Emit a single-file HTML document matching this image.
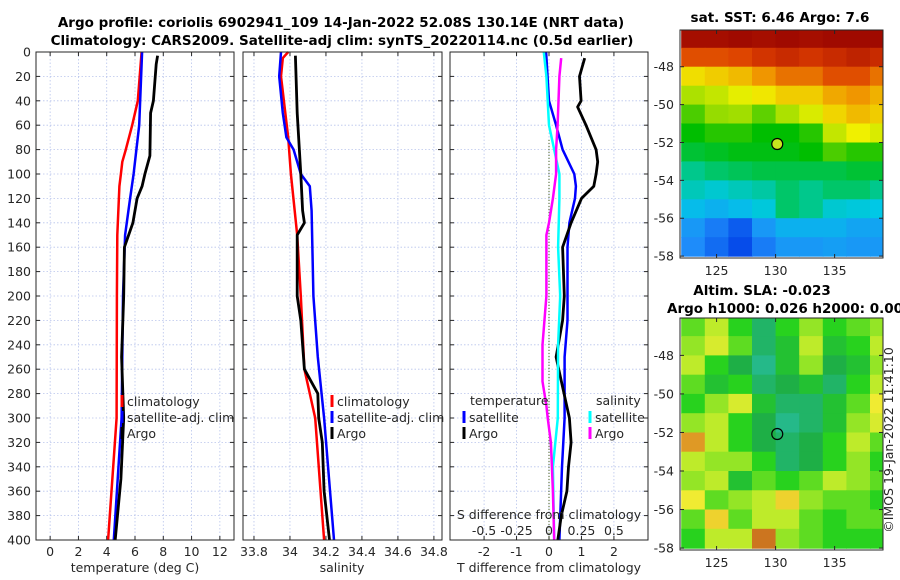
<!DOCTYPE html>
<html><head><meta charset="utf-8"><style>
body{margin:0;background:#fff;}
svg{display:block;font-family:"DejaVu Sans","Liberation Sans",sans-serif;}
.t{font-size:12.5px;fill:#262626;}
.b{font-weight:bold;fill:#000;font-size:13.5px;}
</style></head><body>
<svg id="s" width="900" height="580" viewBox="0 0 900 580"></svg>
<script>
// ---------- data ----------
const depthTicks=[0,20,40,60,80,100,120,140,160,180,200,220,240,260,280,300,320,340,360,380,400];
const tTicks=[0,2,4,6,8,10,12];
const sTicks=[33.8,34,34.2,34.4,34.6,34.8];
const dTTicks=[-2,-1,0,1,2];
const dSTicks=[-0.5,-0.25,0,0.25,0.5];
const dSTickLabels=["-0.5","-0.25","0","0.25","0.5"];
// temperature profiles [depth, value]
const tClimD=[0,40,60,80,90,100,110,150,200,300,400];
const tClimV=[6.47,6.2,5.8,5.35,5.1,5.0,4.9,4.75,4.72,4.7,4.1];
const tSatD=[0,60,100,120,150,200,300,400];
const tSatV=[6.5,6.3,5.9,5.65,5.3,5.15,5.05,4.5];
const tArgoD=[3,10,40,50,85,100,110,120,140,160,200,250,300,350,400];
const tArgoV=[7.6,7.5,7.3,7.1,7.05,6.7,6.5,6.15,5.85,5.25,5.2,5.05,5.2,5.0,4.6];
// salinity profiles
const sClimD=[0,5,20,70,100,150,200,260,300,400];
const sClimV=[33.99,33.96,33.95,33.99,34.005,34.04,34.06,34.08,34.14,34.19];
const sSatD=[0,20,50,70,80,100,110,130,200,250,300,400];
const sSatV=[33.95,33.94,33.96,33.98,34.02,34.06,34.11,34.12,34.13,34.155,34.19,34.245];
const sArgoD=[3,50,100,130,140,150,200,220,260,280,300,320,360,400];
const sArgoV=[34.03,34.04,34.06,34.07,34.08,34.04,34.04,34.06,34.08,34.155,34.16,34.18,34.19,34.22];
// differences from climatology
const dTSatD=[0,40,60,80,100,110,120,140,160,200,220,250,300,340,400];
const dTSatV=[-0.09,0,0.22,0.42,0.78,0.83,0.8,0.63,0.57,0.57,0.57,0.48,0.48,0.4,0.32];
const dTArgoD=[5,20,40,45,60,80,90,100,110,120,140,160,200,220,250,260,300,320,340,360,380,400];
const dTArgoV=[1.1,0.94,0.99,0.88,1.14,1.45,1.5,1.45,1.38,1.0,0.68,0.42,0.47,0.42,0.22,0.3,0.63,0.68,0.6,0.55,0.38,0.27];
const dSSatD=[0,20,60,80,100,120,160,200,240,300,340,400];
const dSSatV=[-0.04,-0.02,0,0.04,0.08,0.08,0.07,0.086,0.07,0.068,0.03,0.04];
const dSArgoD=[5,20,60,80,100,120,140,150,200,240,270,290,300,320,360,400];
const dSArgoV=[0.094,0.08,0.066,0.055,0.055,0.03,0,-0.02,-0.02,-0.05,-0.05,-0.02,-0.01,0.015,0.03,0.04];
// maps (rows lat -46.5..-57.5, cols lon 123..139 step 2), normalised colour values
const lonTicks=[125,130,135];
const latTicks=[-48,-50,-52,-54,-56,-58];
const sstGrid=[
[0.95,0.95,0.96,0.95,0.96,0.95,0.96,0.96,0.96],
[0.82,0.82,0.83,0.86,0.88,0.86,0.88,0.9,0.88],
[0.66,0.68,0.7,0.74,0.78,0.78,0.82,0.82,0.78],
[0.58,0.6,0.63,0.65,0.68,0.68,0.72,0.74,0.71],
[0.52,0.56,0.57,0.53,0.58,0.62,0.67,0.7,0.68],
[0.48,0.5,0.5,0.48,0.48,0.5,0.6,0.64,0.62],
[0.45,0.46,0.47,0.47,0.47,0.48,0.52,0.5,0.5],
[0.4,0.42,0.43,0.44,0.44,0.44,0.44,0.45,0.45],
[0.36,0.34,0.36,0.38,0.42,0.4,0.42,0.42,0.4],
[0.3,0.28,0.3,0.33,0.42,0.4,0.34,0.33,0.32],
[0.24,0.2,0.16,0.24,0.28,0.28,0.28,0.26,0.26],
[0.22,0.18,0.14,0.2,0.24,0.24,0.25,0.24,0.24]];
const slaGrid=[
[0.5,0.6,0.45,0.3,0.45,0.55,0.45,0.5,0.55],
[0.55,0.65,0.5,0.3,0.4,0.6,0.4,0.45,0.6],
[0.6,0.45,0.35,0.25,0.4,0.55,0.35,0.4,0.55],
[0.5,0.4,0.45,0.3,0.35,0.4,0.3,0.45,0.6],
[0.45,0.55,0.65,0.4,0.3,0.3,0.4,0.5,0.7],
[0.55,0.6,0.45,0.35,0.25,0.3,0.4,0.55,0.65],
[0.85,0.6,0.45,0.35,0.3,0.35,0.45,0.6,0.5],
[0.6,0.55,0.55,0.45,0.3,0.35,0.45,0.55,0.45],
[0.55,0.6,0.4,0.5,0.45,0.5,0.6,0.55,0.5],
[0.7,0.5,0.55,0.6,0.75,0.55,0.5,0.5,0.45],
[0.5,0.75,0.5,0.6,0.6,0.5,0.45,0.5,0.5],
[0.45,0.6,0.6,0.9,0.55,0.5,0.45,0.45,0.45]];
const argoPos=[130.14,-52.08];

// ---------- helpers ----------
const S=document.getElementById('s');const NS='http://www.w3.org/2000/svg';
function el(tag,at,parent){const e=document.createElementNS(NS,tag);for(const k in at)e.setAttribute(k,at[k]);(parent||S).appendChild(e);return e;}
function txt(x,y,s,anchor,cls,name){const e=el('text',{x:x,y:y,'text-anchor':anchor||'middle',class:cls||'t'});e.textContent=s;


return e;}
const yTop=52,yBot=540;
const yD=d=>yTop+(yBot-yTop)*d/400;
function lin(d0,d1,r0,r1){return v=>r0+(v-d0)*(r1-r0)/(d1-d0);}
const P=[{x0:36,x1:234},{x0:243,x1:442},{x0:450,x1:648}];
const xT=lin(-1,13,36,234), xS=lin(33.739,34.845,243,442), xDT=lin(-3.05,3.05,450,648), xDS=lin(-0.7625,0.7625,450,648);

function panel(i,xf,ticks,yLabels){
  const p=P[i];
  const g=el('g',{});
  
  
  ticks.forEach(t=>{const x=xf(t);el('line',{x1:x,x2:x,y1:yTop,y2:yBot,stroke:'#b8c4ec','stroke-width':0.8,'stroke-dasharray':'1.5,2'},g);
    el('line',{x1:x,x2:x,y1:yBot,y2:yBot-4,stroke:'#262626'},g);el('line',{x1:x,x2:x,y1:yTop,y2:yTop+4,stroke:'#262626'},g);});
  depthTicks.forEach(d=>{const y=yD(d);el('line',{x1:p.x0,x2:p.x1,y1:y,y2:y,stroke:'#b8c4ec','stroke-width':0.8,'stroke-dasharray':'1.5,2'},g);
    el('line',{x1:p.x0,x2:p.x0+4,y1:y,y2:y,stroke:'#262626'},g);el('line',{x1:p.x1,x2:p.x1-4,y1:y,y2:y,stroke:'#262626'},g);
    if(yLabels)txt(p.x0-5,y+4.5,String(d),'end','t','depth-tick-label');});
  return g;
}
function frame(i){const p=P[i];const r=el('rect',{x:p.x0,y:yTop,width:p.x1-p.x0,height:yBot-yTop,fill:'none',stroke:'#262626','stroke-width':1});

}
function line(D,V,xf,col,w,name){const pts=D.map((d,k)=>xf(V[k]).toFixed(1)+','+yD(d).toFixed(1)).join(' ');
const e=el('polyline',{points:pts,fill:'none',stroke:col,'stroke-width':w,'stroke-linejoin':'round'});

}
function legendEntry(x,y,col,label){const e=el('line',{x1:x,x2:x,y1:y-11,y2:y+1,stroke:col,'stroke-width':3});


txt(x+5,y,label,'start','t','legend-entry');}

// panel 1
panel(0,xT,tTicks,true);
line(tClimD,tClimV,xT,'#ff0000',2.5,'temp-climatology-line');
line(tSatD,tSatV,xT,'#0000ff',2.5,'temp-satellite-line');
line(tArgoD,tArgoV,xT,'#000000',2.8,'temp-argo-line');
tTicks.forEach(t=>txt(xT(t),556,String(t),'middle','t','temp-tick-label'));
txt(135,572,'temperature (deg C)','middle','t','x-axis-title-temperature');
legendEntry(122,406,'#ff0000','climatology');legendEntry(122,422,'#0000ff','satellite-adj. clim');legendEntry(122,438,'#000000','Argo');
frame(0);
// panel 2
panel(1,xS,sTicks,false);
line(sClimD,sClimV,xS,'#ff0000',2.5,'sal-climatology-line');
line(sSatD,sSatV,xS,'#0000ff',2.5,'sal-satellite-line');
line(sArgoD,sArgoV,xS,'#000000',2.8,'sal-argo-line');
sTicks.forEach(t=>txt(xS(t),556,String(t),'middle','t','sal-tick-label'));
txt(342,572,'salinity','middle','t','x-axis-title-salinity');
legendEntry(332,406,'#ff0000','climatology');legendEntry(332,422,'#0000ff','satellite-adj. clim');legendEntry(332,438,'#000000','Argo');
frame(1);
// panel 3
panel(2,xDT,dTTicks,false);
el('line',{x1:xDT(0),x2:xDT(0),y1:yD(72),y2:yBot,stroke:'#556b2f','stroke-width':1.2,'stroke-dasharray':'1,2'});
line(dTSatD,dTSatV,xDT,'#0000ff',2.5,'tdiff-satellite-line');
line(dTArgoD,dTArgoV,xDT,'#000000',2.8,'tdiff-argo-line');
line(dSSatD,dSSatV,xDS,'#00ffff',2.5,'sdiff-satellite-line');
line(dSArgoD,dSArgoV,xDS,'#ff00ff',2.5,'sdiff-argo-line');
txt(470,405,'temperature','start','t','legend-title-temperature');
txt(596,405,'salinity','start','t','legend-title-salinity');
legendEntry(464,422,'#0000ff','satellite');legendEntry(464,438,'#000000','Argo');
legendEntry(590,422,'#00ffff','satellite');legendEntry(590,438,'#ff00ff','Argo');
txt(549,519,'S difference from climatology','middle','t','s-diff-axis-title');
dSTicks.forEach((t,k)=>txt(xDS(t),535,dSTickLabels[k],'middle','t','sdiff-tick-label'));
dTTicks.forEach(t=>txt(xDT(t),556,String(t),'middle','t','tdiff-tick-label'));
txt(549,572,'T difference from climatology','middle','t','x-axis-title-tdiff');
frame(2);

// titles
txt(341,27,'Argo profile: coriolis 6902941_109 14-Jan-2022 52.08S 130.14E (NRT data)','middle','t b','title-line-1');
txt(342,45,'Climatology: CARS2009. Satellite-adj clim: synTS_20220114.nc (0.5d earlier)','middle','t b','title-line-2');

// maps
function ramp(stops){return v=>{for(let k=0;k<stops.length-1;k++){const a=stops[k],b=stops[k+1];if(v<=b[0]){const f=Math.max(0,(v-a[0])/(b[0]-a[0]));return `rgb(${a[1].map((c,j)=>Math.round(c+(b[1][j]-c)*f)).join(',')})`;}}return `rgb(${stops[stops.length-1][1].join(',')})`;};}
const sstStops=[[0.0,[0,0,140]],[0.12,[0,60,230]],[0.22,[30,140,250]],[0.32,[0,200,230]],[0.4,[0,200,140]],[0.48,[0,190,0]],[0.56,[150,220,0]],[0.64,[240,240,0]],[0.74,[240,150,0]],[0.84,[220,60,0]],[0.96,[160,10,0]]];
const slaStops=[[0.2,[40,190,170]],[0.35,[30,175,70]],[0.45,[40,210,30]],[0.58,[180,235,40]],[0.7,[240,235,50]],[0.82,[235,175,40]],[0.95,[185,80,25]]];
const sstCol=ramp(sstStops), slaCol=ramp(slaStops);
function map(x0,x1,y0,y1,grid,colf,name,circleFill){
  const lx=lin(121.9,139.1,x0,x1), ly=lin(-46.06,-58.1,y0,y1);
  const g=el('g',{});
  
  
  const clip=el('clipPath',{id:name+'-clip'},g);el('rect',{x:x0,y:y0,width:x1-x0,height:y1-y0},clip);
  const cg=el('g',{'clip-path':`url(#${name}-clip)`},g);
  grid.forEach((row,r)=>row.forEach((v,c)=>{const lon=122+2*c, lat=-46+(-1)*r;
    el('rect',{x:lx(lon).toFixed(1),y:ly(lat).toFixed(1),width:(lx(lon+2)-lx(lon)+0.6).toFixed(1),height:(ly(lat-1)-ly(lat)+0.6).toFixed(1),fill:colf(v)},cg);}));
  el('rect',{x:x0,y:y0,width:x1-x0,height:y1-y0,fill:'none',stroke:'#262626'},g);
  lonTicks.forEach(t=>{const x=lx(t);el('line',{x1:x,x2:x,y1:y1,y2:y1-4,stroke:'#262626'},g);el('line',{x1:x,x2:x,y1:y0,y2:y0+4,stroke:'#262626'},g);txt(x,y1+17,String(t),'middle','t','map-lon-tick-label');});
  latTicks.forEach(t=>{const y=ly(t);el('line',{x1:x0,x2:x0+4,y1:y,y2:y,stroke:'#262626'},g);el('line',{x1:x1,x2:x1-4,y1:y,y2:y,stroke:'#262626'},g);txt(x0-6,y+4.5,String(t),'end','t','map-lat-tick-label');});
  const c=el('circle',{cx:lx(argoPos[0]),cy:ly(argoPos[1]),r:5.5,fill:circleFill,stroke:'#000','stroke-width':1.2},g);
  
  
}
map(680,883,30,258,sstGrid,sstCol,'sst-map','#c8e61e');
map(680,883,318,550,slaGrid,slaCol,'sla-map','none');
txt(780,22,'sat. SST: 6.46 Argo: 7.6','middle','t b','sst-map-title');
txt(762,295,'Altim. SLA: -0.023','middle','t b','sla-map-title');
txt(667,313,'Argo h1000: 0.026 h2000: 0.0072','start','t b','sla-map-subtitle');
const cr=txt(0,0,'©IMOS 19-Jan-2022 11:41:10','middle','t','imos-timestamp');
cr.setAttribute('transform','translate(893,440) rotate(-90)');
</script>
</body></html>
